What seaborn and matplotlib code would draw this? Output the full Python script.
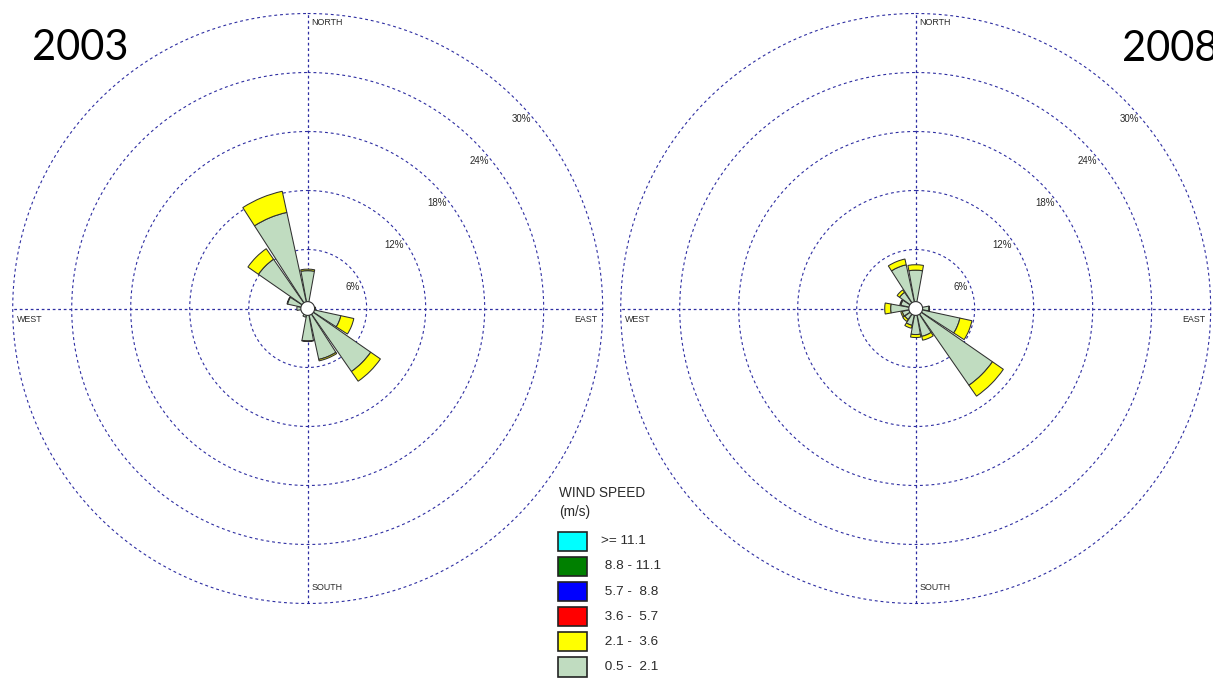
import numpy as np
import matplotlib
matplotlib.use("Agg")
import matplotlib.pyplot as plt
from matplotlib.patches import Rectangle
import seaborn as sns

# ---- data -----------------------------------------------------------------
directions = ["N", "NNE", "NE", "ENE", "E", "ESE", "SE", "SSE",
              "S", "SSW", "SW", "WSW", "W", "WNW", "NW", "NNW"]
years = ["2003", "2008"]

# frequency (%) per direction, 0.5 - 2.1 m/s class
light_2003 = [3.85, 0.5, 0.5, 0.55, 0.8, 3.45, 7.8, 5.3,
              3.3, 0.9, 0.6, 0.6, 1.1, 2.1, 6.1, 10.0]
light_2008 = [3.9, 0.6, 0.55, 0.6, 1.35, 4.6, 9.5, 2.9,
              2.65, 1.75, 1.35, 1.4, 2.55, 1.55, 2.0, 4.55]

# frequency (%) per direction, 2.1 - 3.6 m/s class
gentle_2003 = [0.15, 0.0, 0.0, 0.0, 0.0, 1.35, 1.2, 0.15,
               0.05, 0.0, 0.0, 0.0, 0.0, 0.05, 1.3, 2.2]
gentle_2008 = [0.55, 0.0, 0.0, 0.0, 0.05, 1.25, 1.35, 0.4,
               0.3, 0.3, 0.25, 0.15, 0.6, 0.1, 0.3, 0.6]

speed_classes = [">= 11.1", " 8.8 - 11.1", " 5.7 -  8.8",
                 " 3.6 -  5.7", " 2.1 -  3.6", " 0.5 -  2.1"]
speed_colors = ["#00FFFF", "#008000", "#0000FF", "#FF0000", "#FFFF00", "#C0DCC0"]
ring_values = [6, 12, 18, 24, 30]
compass_labels = ["NORTH", "EAST", "SOUTH", "WEST"]

# ---- style ----------------------------------------------------------------
sns.set_style("white")
plt.rcParams["font.family"] = ["Liberation Sans", "DejaVu Sans"]
palette = sns.color_palette(speed_colors)

W, H = 1213, 678
R_PX = 295.0            # radius of the 30 % ring in pixels
R_MAX = 30.0
CALM_R = 0.7
GRID_COLOR = "#2e2ea2"
EDGE = "#303030"
TEXT = "#2a2a2a"

fig = plt.figure(figsize=(W / 100, H / 100), dpi=100)
fig.patch.set_facecolor("white")

centers = [(307.7, 308.5), (915.7, 308.5)]
light_series = [light_2003, light_2008]
gentle_series = [gentle_2003, gentle_2008]

theta_dir = np.deg2rad(np.arange(len(directions)) * 22.5)
bar_w = np.deg2rad(20.5)
theta_fine = np.linspace(0, 2 * np.pi, 721)

for (cx, cy), light, gentle, year in zip(centers, light_series, gentle_series, years):
    ax = fig.add_axes([(cx - R_PX) / W, (H - cy - R_PX) / H, 2 * R_PX / W, 2 * R_PX / H],
                      projection="polar")
    ax.set_theta_zero_location("N")
    ax.set_theta_direction(-1)
    ax.set_ylim(0, R_MAX)
    ax.grid(False)
    ax.set_xticks([])
    ax.set_yticks([])
    ax.spines["polar"].set_visible(False)
    ax.set_facecolor("none")

    # dotted range rings
    for rv in ring_values:
        ax.plot(theta_fine, np.full_like(theta_fine, rv), color=GRID_COLOR, lw=0.8,
                dashes=(2.6, 2.6), clip_on=False, zorder=1)
    # compass axes
    for ang in (0, 0.5 * np.pi, np.pi, 1.5 * np.pi):
        ax.plot([ang, ang], [0, R_MAX], color=GRID_COLOR, lw=0.9, dashes=(2.2, 2.2),
                clip_on=False, zorder=1)

    light = np.asarray(light)
    gentle = np.asarray(gentle)
    ax.bar(theta_dir, light, width=bar_w, bottom=0, color=palette[5],
           edgecolor=EDGE, linewidth=0.75, zorder=3)
    m = gentle > 0
    ax.bar(theta_dir[m], gentle[m], width=bar_w, bottom=light[m], color=palette[4],
           edgecolor=EDGE, linewidth=0.75, zorder=3)

    # calm circle
    ax.fill(theta_fine, np.full_like(theta_fine, CALM_R), facecolor="white",
            edgecolor=EDGE, linewidth=0.8, zorder=4)

    # compass labels
    lbl = dict(textcoords="offset pixels", fontsize=6.4, color=TEXT, zorder=5,
               annotation_clip=False)
    ax.annotate(compass_labels[0], xy=(0, R_MAX), xytext=(4, -9.2), ha="left", va="center", **lbl)
    ax.annotate(compass_labels[1], xy=(0.5 * np.pi, R_MAX), xytext=(-5.5, -10.8),
                ha="right", va="center", **lbl)
    ax.annotate(compass_labels[2], xy=(np.pi, R_MAX), xytext=(4, 16.5), ha="left", va="center", **lbl)
    ax.annotate(compass_labels[3], xy=(1.5 * np.pi, R_MAX), xytext=(4, -10.8),
                ha="left", va="center", **lbl)

    # ring labels, stepped up along the north-east quadrant
    for k, rv in enumerate(ring_values):
        dy = 21.8 + 41.9 * k
        rpx = rv * R_PX / R_MAX
        th = 0.5 * np.pi - np.arcsin(dy / rpx)
        ax.annotate(f"{rv}%", xy=(th, rv), xytext=(-3, 0), textcoords="offset pixels",
                    ha="right", va="center", fontsize=7, color=TEXT, zorder=5)

# year captions
fig.text(31.7 / W, 1 - 59.5 / H, years[0], fontsize=30, family=["Lato", "DejaVu Sans"],
         color="black", ha="left", va="baseline")
fig.text(1121.7 / W, 1 - 61.0 / H, years[1], fontsize=30, family=["Lato", "DejaVu Sans"],
         color="black", ha="left", va="baseline")

# legend
fig.text(559 / W, 1 - 492.7 / H, "WIND SPEED", fontsize=9.8, color=TEXT, ha="left", va="center")
fig.text(559 / W, 1 - 511.7 / H, "(m/s)", fontsize=9.8, color=TEXT, ha="left", va="center")
box_w, box_h, step = 28.3, 19.3, 25.1
for i, (lab, col) in enumerate(zip(speed_classes, palette)):
    top = 531.7 + step * i
    fig.add_artist(Rectangle((558.3 / W, 1 - (top + box_h) / H), box_w / W, box_h / H,
                             transform=fig.transFigure, facecolor=col,
                             edgecolor="#222222", linewidth=1.2))
    fig.text(601 / W, 1 - (top + box_h / 2) / H, lab, fontsize=9.7, color=TEXT,
             ha="left", va="center")

fig.savefig("out.png", dpi=100)
